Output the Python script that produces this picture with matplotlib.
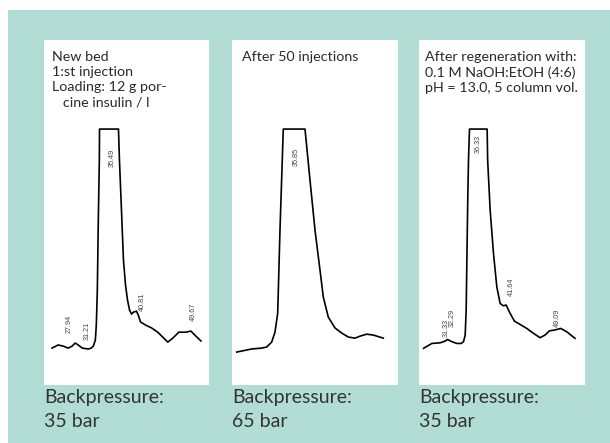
import matplotlib
matplotlib.use('Agg')
import matplotlib.pyplot as plt
from matplotlib.patches import Rectangle
import numpy as np

# retention time (min) and detector signal (mAU); the flat tops are detector saturation
t_new = [25.00, 26.06, 26.94, 27.81, 28.52, 29.04, 29.57, 30.27, 31.33, 31.85, 32.21, 32.56,
         32.73, 32.91, 33.08, 33.26, 33.29, 36.60, 36.77, 37.12, 37.47, 37.83, 38.18, 38.53,
         38.88, 39.23, 39.76, 40.11, 40.46, 41.34, 42.39, 43.45, 44.32, 45.20, 46.08, 47.13,
         48.36, 49.24, 50.12, 51.00]
s_new = [9, 23, 18, 9, 18, 32, 23, 9, 5, 9, 18, 45,
         113, 272, 588, 860, 1000, 1000, 860, 634, 407, 294, 226, 181,
         163, 172, 176, 154, 127, 113, 100, 81, 59, 36, 54, 81,
         81, 86, 63, 41]

t_50 = [25.43, 28.07, 29.82, 30.70, 31.58, 32.16, 32.64, 33.04, 33.62, 37.44, 38.32, 39.20,
        40.08, 40.66, 41.54, 42.72, 43.90, 45.06, 46.24, 47.12, 48.29, 49.45, 51.21]
s_50 = [-9, 5, 9, 14, 36, 81, 167, 543, 1000, 1000, 769, 543,
        362, 240, 149, 100, 77, 59, 54, 63, 72, 68, 54]

t_regen = [27.63, 28.97, 30.30, 31.10, 31.47, 32.17, 32.97, 33.66, 34.03, 34.30, 34.46, 34.57,
           34.73, 34.83, 34.99, 37.82, 37.90, 38.30, 38.83, 39.37, 39.90, 40.43, 40.86, 41.50,
           42.19, 43.10, 44.17, 45.23, 46.30, 47.10, 47.79, 48.70, 49.61, 50.57, 51.90]
s_regen = [8, 30, 33, 41, 48, 38, 30, 30, 38, 68, 181, 407,
           710, 860, 1000, 1000, 860, 634, 439, 286, 211, 200, 204, 166,
           131, 116, 98, 76, 56, 68, 87, 91, 98, 83, 53]

# labelled peaks (retention times)
rt_new = [27.94, 31.21, 35.49, 40.81, 49.67]
rt_50 = [35.85]
rt_regen = [31.33, 32.29, 36.33, 41.64, 49.09]

titles = ['New bed\n1:st injection\nLoading: 12 g por-\n   cine insulin / l',
          'After 50 injections',
          'After regeneration with:\n0.1 M NaOH:EtOH (4:6)\npH = 13.0, 5 column vol.']
pressures = ['35 bar', '65 bar', '35 bar']

# layout / style
W, H = 610, 443
teal = '#b2ddd4'
panels_px = [(44, 40, 165, 345), (232, 40, 166, 345), (419, 40, 166, 345)]
xlims = [(23.6, 52.4), (24.6, 53.8), (26.9, 53.5)]
title_pad = [8, 10, 6]
lifts = [[10.6, 6.5, -14.4, 9.0, 8.9], [-13.7], [2.5, 11.0, -4.3, 14.0, 1.7]]
font = 'Lato'

fig = plt.figure(figsize=(W / 100, H / 100), dpi=100)
fig.patch.set_facecolor('white')

# teal backdrop
bg = fig.add_axes([0, 0, 1, 1], zorder=-5)
bg.set_xlim(0, W)
bg.set_ylim(H, 0)
bg.axis('off')
bg.add_patch(Rectangle((8, 10), W - 8, H - 10, facecolor=teal, edgecolor='none'))

traces = [(t_new, s_new), (t_50, s_50), (t_regen, s_regen)]
peaks = [rt_new, rt_50, rt_regen]

for i, (t, s) in enumerate(traces):
    x0, y0, w, h = panels_px[i]
    ax = fig.add_axes([x0 / W, 1 - (y0 + h) / H, w / W, h / H])
    ax.set_facecolor('white')
    ax.plot(t, s, color='black', lw=1.2, solid_joinstyle='round')
    ax.set_xlim(*xlims[i])
    ax.set_ylim(-158, 1403)
    ax.set_xticks([])
    ax.set_yticks([])
    for sp in ax.spines.values():
        sp.set_visible(False)

    for rt, lift in zip(peaks[i], lifts[i]):
        ax.annotate(f'{rt:.2f}', xy=(rt, np.interp(rt, t, s)), xytext=(0, lift),
                    textcoords='offset points', rotation=90, ha='center',
                    va='bottom' if lift > 0 else 'top', fontsize=5.2,
                    family='Liberation Sans', color='#444444')

    fig.text((x0 + title_pad[i]) / W, 1 - 51 / H, titles[i], ha='left', va='top',
             fontsize=10.3, family=font, color='#2a2a2a', linespacing=1.32)

    fig.text(x0 / W, 1 - 389 / H, 'Backpressure:\n' + pressures[i], ha='left', va='top',
             fontsize=14, family=font, color='#333333', linespacing=1.5)

fig.savefig('out.png', dpi=100, facecolor=fig.get_facecolor())
